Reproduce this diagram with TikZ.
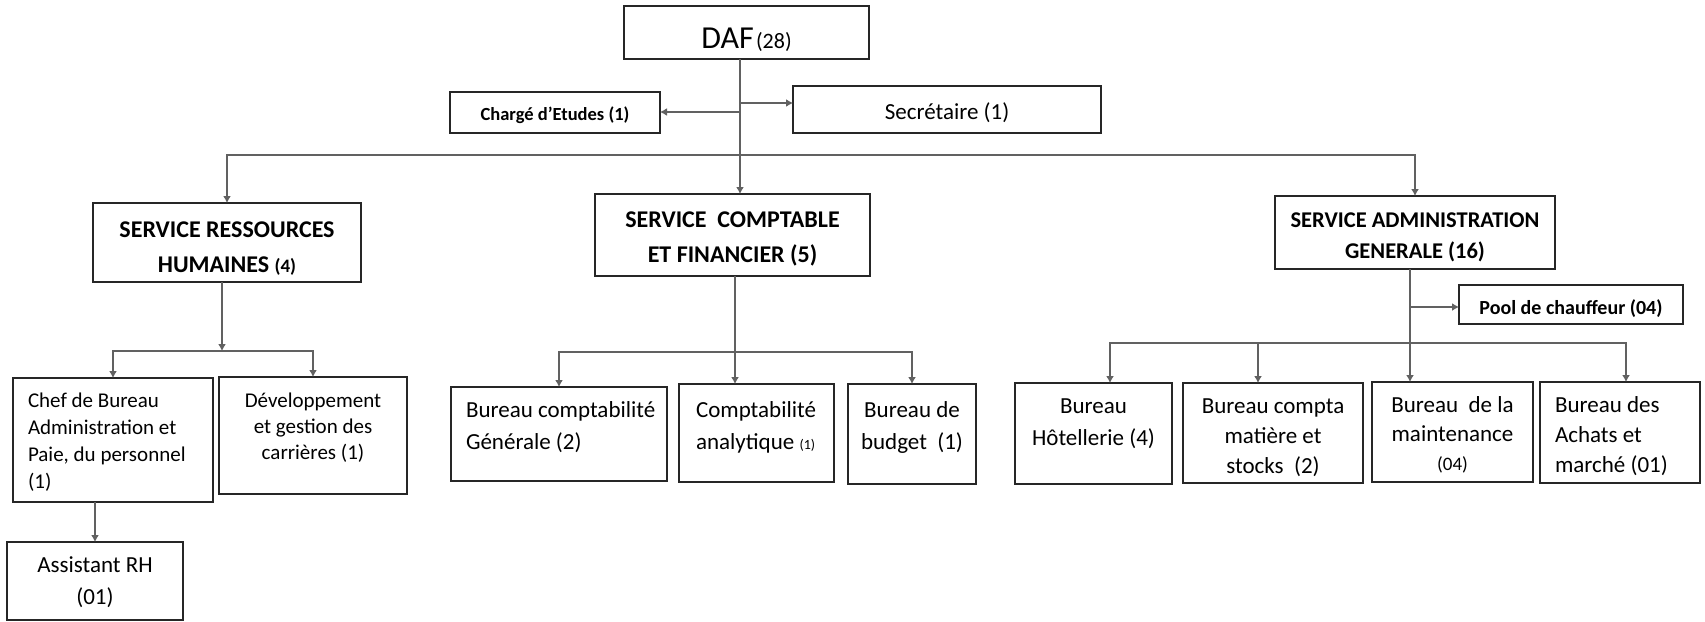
\documentclass[tikz,border=0pt]{standalone}
\usepackage{fontspec}
\setmainfont{Carlito}
\usetikzlibrary{arrows.meta,calc}
\newcommand{\tb}[5]{\parbox[c][#2][t]{#1}{#4\rule{0pt}{#3}#5}}
\newcommand{\lpad}[1]{\raggedright\leftskip=#1\relax}
\newcommand{\fs}[2]{\fontsize{#1}{#2}\selectfont}
\tikzset{
  bx/.style={draw=black!85, line width=2.6pt, inner sep=0pt, outer sep=0pt, anchor=north west, fill=white},
  ln/.style={draw=black!62, line width=2.3pt},
  ar/.style={ln, -{Latex[length=7pt,width=8pt]}},
}
\begin{document}
\begin{tikzpicture}[x=1pt,y=-1pt]
\useasboundingbox (0,0) rectangle (1705,621);

% top level
\node[bx] (daf) at (624,6) {\tb{245pt}{53pt}{42pt}{\centering}{{\fs{32}{40}DAF} {\fs{22}{24}(28)}}};
\node[bx, font=\bfseries\fs{18.5}{20}] (charge) at (450,92) {\tb{210pt}{41pt}{28pt}{\centering}{Chargé d'Etudes (1)}};
\node[bx, font=\fs{23}{26}] (sec) at (793,86) {\tb{308pt}{47pt}{33pt}{\centering}{Secrétaire (1)}};

% services
\node[bx, font=\bfseries\fs{24}{35}] (srh) at (93,203) {\tb{268pt}{79pt}{34pt}{\centering}{SERVICE RESSOURCES\\HUMAINES {\fs{19}{20}(4)}}};
\node[bx, font=\bfseries\fs{24}{35}] (scf) at (595,194) {\tb{275pt}{82pt}{33pt}{\centering}{SERVICE\ \ COMPTABLE\\ET FINANCIER (5)}};
\node[bx, font=\bfseries\fs{22.5}{31}] (sag) at (1275,196) {\tb{280pt}{73pt}{31pt}{\centering}{SERVICE ADMINISTRATION\\GENERALE (16)}};

% RH subtree
\node[bx, font=\fs{21}{27}] (chef) at (13,378) {\tb{200pt}{124pt}{29pt}{\lpad{15pt}}{Chef de Bureau\\Administration et\\Paie, du personnel\\(1)}};
\node[bx, font=\fs{21}{26}] (dev) at (219,377) {\tb{188pt}{117pt}{30pt}{\centering}{Développement\\et gestion des\\carrières (1)}};
\node[bx, font=\fs{23}{32}] (asst) at (7,542) {\tb{176pt}{78pt}{30pt}{\centering}{Assistant RH\\(01)}};

% comptable subtree
\node[bx, font=\fs{23}{32}] (bcg) at (451,387) {\tb{216pt}{94pt}{30pt}{\lpad{15pt}}{Bureau comptabilité\\Générale (2)}};
\node[bx, font=\fs{23}{32}] (bca) at (679,384) {\tb{155pt}{98pt}{33pt}{\lpad{17pt}}{Comptabilité\\analytique {\fs{14}{14}(1)}}};
\node[bx, font=\fs{23}{32}] (bbud) at (848,384) {\tb{128pt}{100pt}{33pt}{\centering}{Bureau de\\budget\ \ (1)}};

% administration subtree
\node[bx, font=\bfseries\fs{20}{22}] (pool) at (1459,285) {\tb{224pt}{39pt}{29pt}{\centering}{Pool de chauffeur (04)}};
\node[bx, font=\fs{23}{32}] (hot) at (1015,383) {\tb{157pt}{101pt}{30pt}{\centering}{Bureau\\Hôtellerie (4)}};
\node[bx, font=\fs{23}{30}] (bcm) at (1183,383) {\tb{180pt}{100pt}{30pt}{\centering}{Bureau compta\\matière et\\stocks\ \ (2)}};
\node[bx, font=\fs{23}{29}] (bmt) at (1372,382) {\tb{161pt}{100pt}{30pt}{\centering}{Bureau\ \ de la\\maintenance\\{\fs{19}{19}(04)}}};
\node[bx, font=\fs{23}{30}] (bach) at (1540,382) {\tb{160pt}{101pt}{30pt}{\lpad{15pt}}{Bureau des\\Achats et\\marché (01)}};

% junctions
\coordinate (jt) at (740,155);
\coordinate (jc) at (740,112);
\coordinate (js) at (740,103);
\coordinate (jr) at (222,351);
\coordinate (jf) at (735,352);
\coordinate (ja) at (1410,343);
\coordinate (jp) at (1410,307);
\coordinate (dh) at (1110,343);
\coordinate (dm) at (1258,343);
\coordinate (dc) at (1626,343);

% DAF connectors
\draw[ar] (daf.south -| jt) -- (jt |- scf.north);
\draw[ar] (jc) -- (jc -| charge.east);
\draw[ar] (js) -- (js -| sec.west);
\draw[ar] (jt) -| (srh.north);
\draw[ar] (jt) -| (sag.north);

% RH connectors
\draw[ar] (srh.south -| jr) -- (jr);
\draw[ar] (jr) -| (chef.north);
\draw[ar] (jr) -| (dev.north);
\draw[ar] (chef.south -| asst.north) -- (asst.north);

% comptable connectors
\draw[ar] (scf.south -| jf) -- (jf |- bca.north);
\draw[ar] (jf) -| (bcg.north);
\draw[ar] (jf) -| (bbud.north);

% administration connectors
\draw[ar] (sag.south -| ja) -- (ja |- bmt.north);
\draw[ar] (jp) -- (jp -| pool.west);
\draw[ar] (ja) -- (dh) -- (dh |- hot.north);
\draw[ar] (ja) -- (dm) -- (dm |- bcm.north);
\draw[ar] (ja) -- (dc) -- (dc |- bach.north);
\end{tikzpicture}
\end{document}
